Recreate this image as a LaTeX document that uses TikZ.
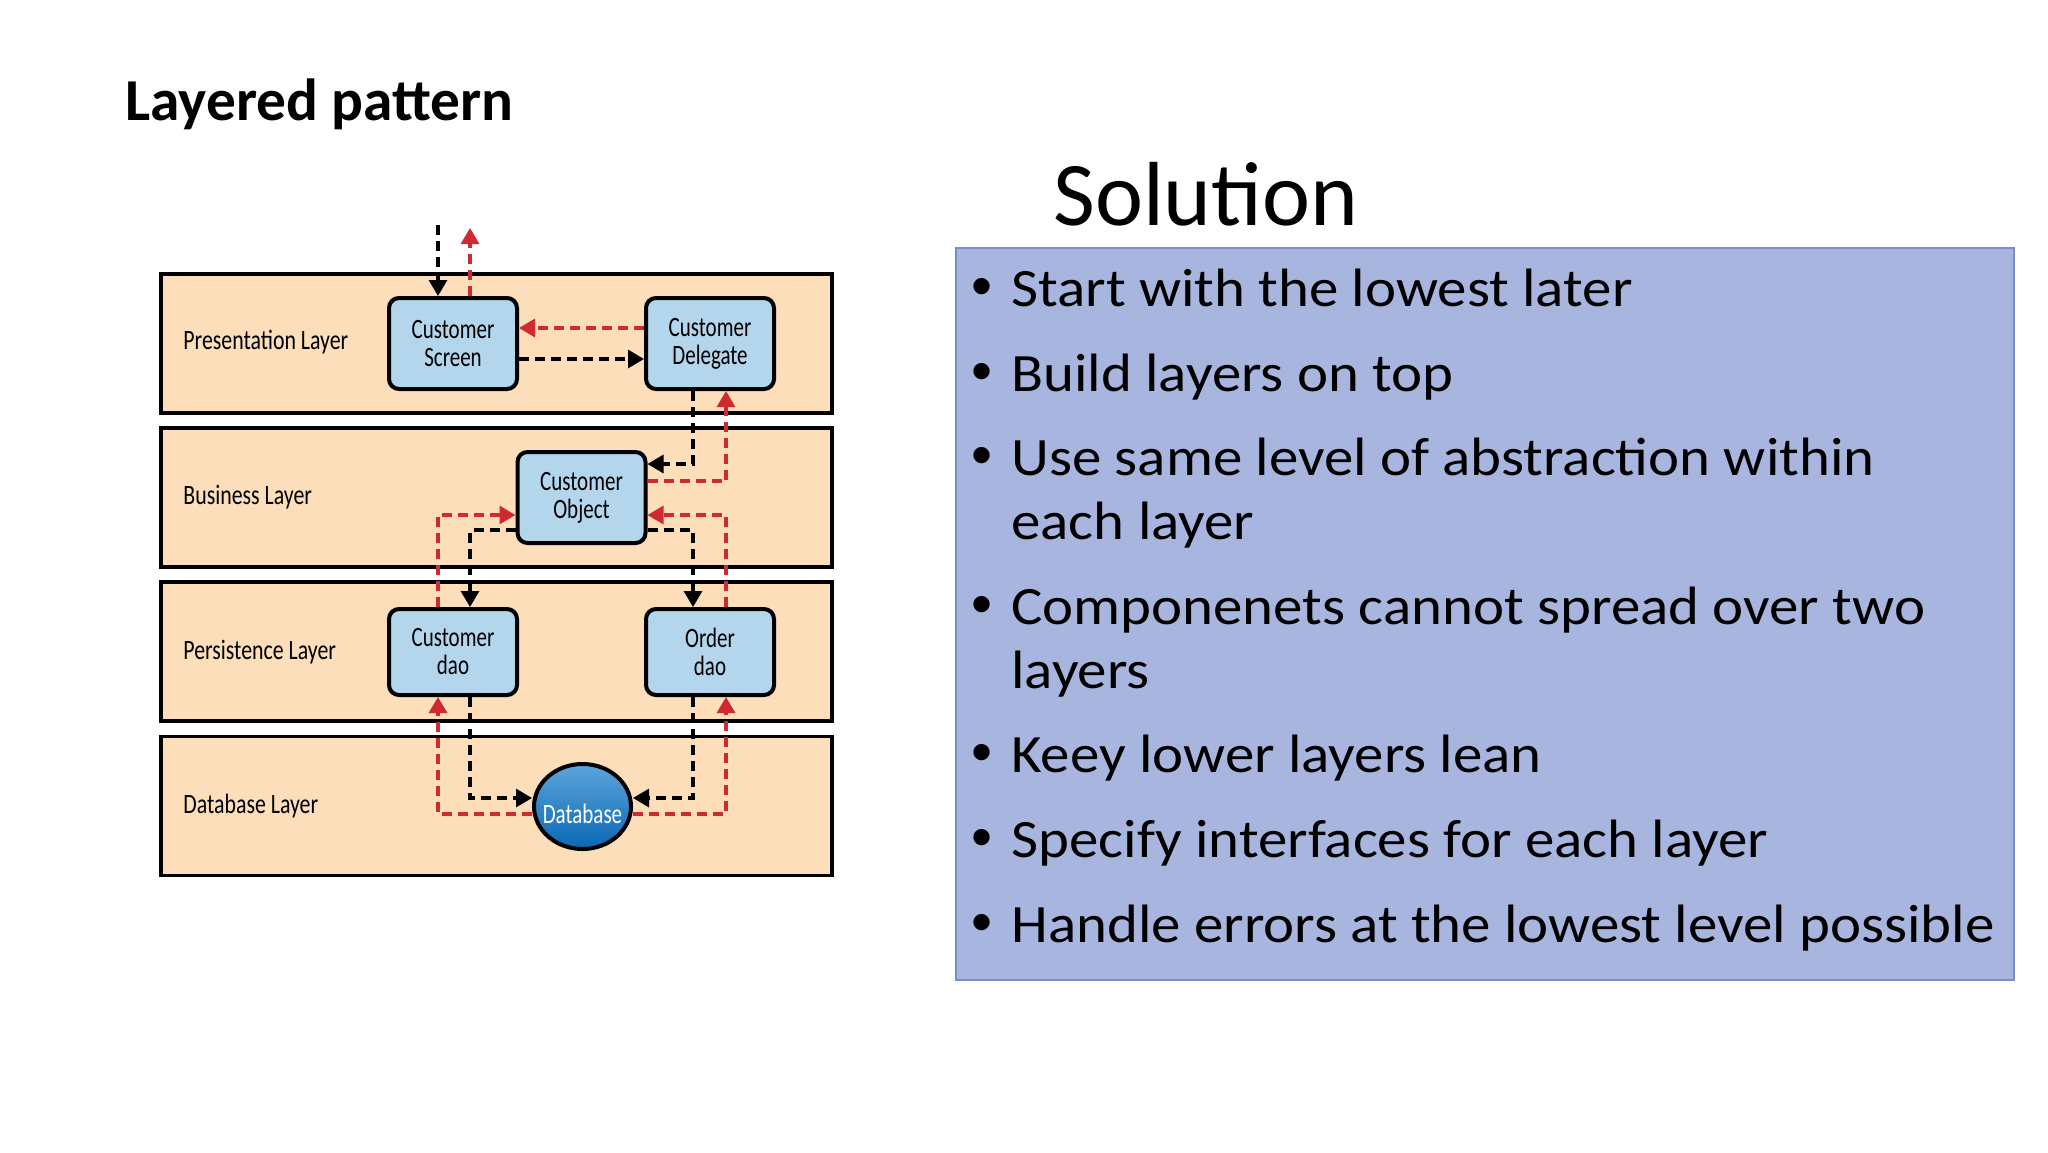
\documentclass[tikz,border=0pt]{standalone}
\usepackage{fontspec}
\setmainfont{Carlito}
\newfontfamily\condfont[FakeStretch=0.75]{Carlito}
\newfontfamily\lblfont[FakeStretch=0.78]{Carlito}
\newfontfamily\widefont[FakeStretch=1.09]{Carlito}
\newfontfamily\bulfont{Liberation Sans}
\usetikzlibrary{arrows.meta,shapes.geometric}
\definecolor{layerfill}{RGB}{252,222,186}
\definecolor{compfill}{RGB}{180,214,237}
\definecolor{arrred}{RGB}{208,42,48}
\definecolor{panelfill}{RGB}{167,181,223}
\definecolor{paneledge}{RGB}{118,142,204}
\definecolor{dbtop}{RGB}{92,165,220}
\definecolor{dbbot}{RGB}{10,104,180}
\begin{document}
\begin{tikzpicture}[x=0.5pt,y=-0.5pt,
  layer/.style={draw=black,line width=1.6pt,fill=layerfill,minimum width=335.5pt,minimum height=69.5pt,inner sep=0pt},
  comp/.style={draw=black,line width=2pt,fill=compfill,rounded corners=5pt,minimum width=64pt,inner sep=0pt,align=center,font=\condfont\fontsize{14}{14}\selectfont},
  lbl/.style={anchor=west,font=\lblfont\fontsize{14}{16}\selectfont,inner sep=0pt},
  blkarr/.style={draw=black,line width=1.6pt,dash pattern=on 5pt off 3pt,-{Triangle[length=8pt,width=9pt]}},
  redarr/.style={draw=arrred,line width=1.6pt,dash pattern=on 5pt off 3pt,-{Triangle[length=8pt,width=9pt]},arrred},
  bul/.style={anchor=base west,inner sep=0pt,font=\widefont\fontsize{27}{31}\selectfont},
  dot/.style={anchor=base,inner sep=0pt,font=\bulfont\fontsize{30}{34}\selectfont}
]
\useasboundingbox (0,0) rectangle (2048,1152);
\fill[white] (0,0) rectangle (2048,1152);

% title
\node[anchor=base west,inner sep=0pt,font=\bfseries\fontsize{29.7}{34}\selectfont] (title) at (125,120) {Layered pattern};

% layers
\node[layer] (pl) at (496.5,343.5) {};
\node[layer] (bl) at (496.5,497.5) {};
\node[layer] (sl) at (496.5,651.5) {};
\node[layer] (dl) at (496.5,806) {};
\node[lbl] (plt) at (183,342) {Presentation Layer};
\node[lbl] (blt) at (183,497) {Business Layer};
\node[lbl] (slt) at (183,652) {Persistence Layer};
\node[lbl] (dlt) at (183,806) {Database Layer};

% components
\node[comp,minimum height=45.5pt] (s) at (453,343.5) {Customer\\Screen};
\node[comp,minimum height=45.5pt] (d) at (710,343.5) {Customer\\Delegate};
\node[comp,minimum height=45.5pt] (o) at (581.5,497.5) {Customer\\Object};
\node[comp,minimum height=43pt] (cd) at (453,652) {Customer\\dao};
\node[comp,minimum height=43pt] (od) at (710,652) {Order\\dao};
\node[ellipse,draw=black,line width=2pt,top color=dbtop,bottom color=dbbot,minimum width=48.5pt,minimum height=42.5pt,inner sep=0pt] (db) at (582.5,806.5) {};
\node[inner sep=0pt,text=white,font=\condfont\fontsize{14}{16}\selectfont] (dbt) at (582.5,814) {Database};

% free ends
\coordinate (inTop) at (438,225);
\coordinate (outTop) at (470,228);

% connectors
\draw[blkarr] (inTop) -- (inTop |- s.north);
\draw[redarr] (outTop |- s.north) -- (outTop);
\draw[redarr] (d.west |- 0,328) -- (s.east |- 0,328);
\draw[blkarr] (s.east |- 0,359) -- (d.west |- 0,359);
\draw[blkarr] (d.south -| 693,0) |- (o.east |- 0,464);
\draw[redarr] (o.east |- 0,481) -| (d.south -| 726,0);
\draw[blkarr] (o.west |- 0,530) -| (cd.north -| 470,0);
\draw[redarr] (cd.north -| 438,0) |- (o.west |- 0,515);
\draw[blkarr] (o.east |- 0,530) -| (od.north -| 693,0);
\draw[redarr] (od.north -| 726,0) |- (o.east |- 0,515);
\draw[blkarr] (cd.south -| 470,0) |- (db.west |- 0,798);
\draw[redarr] (db.west |- 0,814) -| (cd.south -| 438,0);
\draw[blkarr] (od.south -| 693,0) |- (db.east |- 0,798);
\draw[redarr] (db.east |- 0,814) -| (od.south -| 726,0);

% right panel
\node[anchor=base west,inner sep=0pt,font=\fontsize{45.5}{50}\selectfont] (sol) at (1053,225) {Solution};
\node[draw=paneledge,line width=0.8pt,fill=panelfill,minimum width=529pt,minimum height=366pt,inner sep=0pt] (panel) at (1485,614) {};
\foreach \yy in {306,391,475,624,772,857,942} {\node[dot] at (982,\yy) {•};}
\node[bul] (b1) at (1011,306) {Start with the lowest later};
\node[bul] (b2) at (1011,391) {Build layers on top};
\node[bul] (b3) at (1011,475) {Use same level of abstraction within};
\node[bul] (b3b) at (1011,539) {each layer};
\node[bul] (b4) at (1011,624) {Componenets cannot spread over two};
\node[bul] (b4b) at (1011,688) {layers};
\node[bul] (b5) at (1011,772) {Keey lower layers lean};
\node[bul] (b6) at (1011,857) {Specify interfaces for each layer};
\node[bul] (b7) at (1011,942) {Handle errors at the lowest level possible};
\end{tikzpicture}
\end{document}
